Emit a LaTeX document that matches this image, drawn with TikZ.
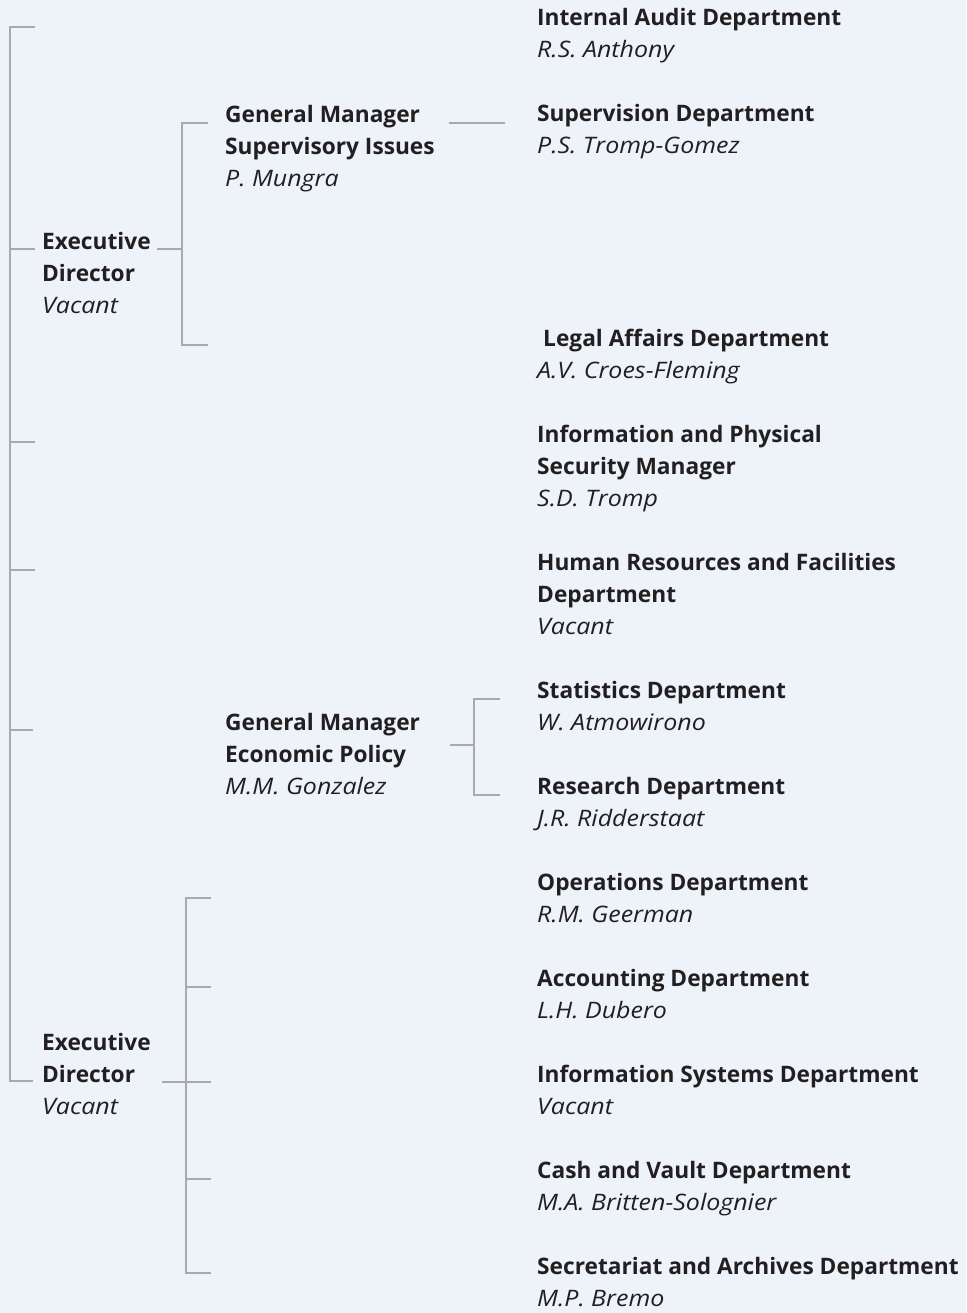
\documentclass[tikz,border=0pt]{standalone}
\usepackage{fontspec}
\setmainfont{Open Sans}[ItalicFeatures={FakeStretch=1.1}]
\definecolor{bg}{RGB}{238,243,250}
\definecolor{ink}{RGB}{35,31,32}
\definecolor{rulegrey}{RGB}{167,169,172}
\newcommand{\hd}[1]{\textbf{#1}}
\newcommand{\nm}[1]{\textit{#1}}
% block of lines, baseline = first line
\newcommand{\blk}[1]{\begin{tabular}[t]{@{}l@{}}#1\end{tabular}}
\begin{document}
\begin{tikzpicture}[x=1pt,y=-1pt,
  unit/.style={anchor=base west,inner sep=0pt,text=ink,font=\fontsize{22.7}{32}\selectfont},
  link/.style={draw=rulegrey,line width=1.2pt}]
\fill[bg] (0,0) rectangle (966,1313);
\useasboundingbox (0,0) rectangle (966,1313);

% ---- units ----
\node[unit] (ed1) at (42,250) {\blk{\hd{Executive}\\\hd{Director}\\\nm{Vacant}}};
\node[unit] (gms) at (225,123) {\blk{\hd{General Manager}\\\hd{Supervisory Issues}\\\nm{P. Mungra}}};
\node[unit] (gme) at (225,730) {\blk{\hd{General Manager}\\\hd{Economic Policy}\\\nm{M.M. Gonzalez}}};
\node[unit] (ed2) at (42,1050) {\blk{\hd{Executive}\\\hd{Director}\\\nm{Vacant}}};

\node[unit] (iad) at (537,26) {\blk{\hd{Internal Audit Department}\\\nm{R.S. Anthony}}};
\node[unit] (sup) at (537,122) {\blk{\hd{Supervision Department}\\\nm{P.S. Tromp-Gomez}}};
\node[unit] (leg) at (537,346) {\blk{\hspace*{6pt}\hd{Legal Affairs Department}\\\nm{A.V. Croes-Fleming}}};
\node[unit] (sec) at (537,442) {\blk{\hd{Information and Physical}\\\hd{Security Manager}\\\nm{S.D. Tromp}}};
\node[unit] (hrf) at (537,570) {\blk{\hd{Human Resources and Facilities}\\\hd{Department}\\\nm{Vacant}}};
\node[unit] (sta) at (537,698) {\blk{\hd{Statistics Department}\\\nm{W. Atmowirono}}};
\node[unit] (res) at (537,794) {\blk{\hd{Research Department}\\\nm{J.R. Ridderstaat}}};
\node[unit] (ops) at (537,890) {\blk{\hd{Operations Department}\\\nm{R.M. Geerman}}};
\node[unit] (acc) at (537,986) {\blk{\hd{Accounting Department}\\\nm{L.H. Dubero}}};
\node[unit] (isd) at (537,1082) {\blk{\hd{Information Systems Department}\\\nm{Vacant}}};
\node[unit] (cvd) at (537,1178) {\blk{\hd{Cash and Vault Department}\\\nm{M.A. Britten-Solognier}}};
\node[unit] (sad) at (537,1274) {\blk{\hd{Secretariat and Archives Department}\\\nm{M.P. Bremo}}};

% ---- junction points ----
\coordinate (sTop) at (10,27);   \coordinate (tTop) at (35,27);
\coordinate (sA) at (10,249);    \coordinate (tA) at (35,249);
\coordinate (sB) at (10,442);    \coordinate (tB) at (35,442);
\coordinate (sC) at (10,570);    \coordinate (tC) at (35,570);
\coordinate (sD) at (10,730);    \coordinate (tD) at (33,730);
\coordinate (sBot) at (10,1081); \coordinate (tBot) at (33,1081);

\coordinate (e1a) at (157,249);  \coordinate (e1b) at (182,249);
\coordinate (b1t) at (182,123);  \coordinate (b1tt) at (208,123);
\coordinate (b1b) at (182,345);  \coordinate (b1bt) at (208,345);

\coordinate (gsa) at (449,123);  \coordinate (gsb) at (505,123);

\coordinate (gea) at (450,745);  \coordinate (geb) at (474,745);
\coordinate (b2t) at (474,699);  \coordinate (b2tt) at (500,699);
\coordinate (b2b) at (474,795);  \coordinate (b2bt) at (500,795);

\coordinate (e2a) at (162,1082); \coordinate (e2b) at (186,1082);
\coordinate (b3t) at (186,898);  \coordinate (b3tt) at (211,898);
\coordinate (b3b) at (186,1273); \coordinate (b3bt) at (211,1273);
\coordinate (b3m1) at (186,987); \coordinate (t3m1) at (211,987);
\coordinate (t3m2) at (211,1082);
\coordinate (b3m3) at (186,1179);\coordinate (t3m3) at (211,1179);

% ---- connectors ----
\draw[link] (tTop) -- (sTop) -- (sBot) -- (tBot);
\draw[link] (sA) -- (tA);
\draw[link] (sB) -- (tB);
\draw[link] (sC) -- (tC);
\draw[link] (sD) -- (tD);

\draw[link] (e1a) -- (e1b);
\draw[link] (b1tt) -- (b1t) -- (b1b) -- (b1bt);
\draw[link] (gsa) -- (gsb);

\draw[link] (gea) -- (geb);
\draw[link] (b2tt) -- (b2t) -- (b2b) -- (b2bt);

\draw[link] (e2a) -- (e2b) -- (t3m2);
\draw[link] (b3tt) -- (b3t) -- (b3b) -- (b3bt);
\draw[link] (b3m1) -- (t3m1);
\draw[link] (b3m3) -- (t3m3);
\end{tikzpicture}
\end{document}
